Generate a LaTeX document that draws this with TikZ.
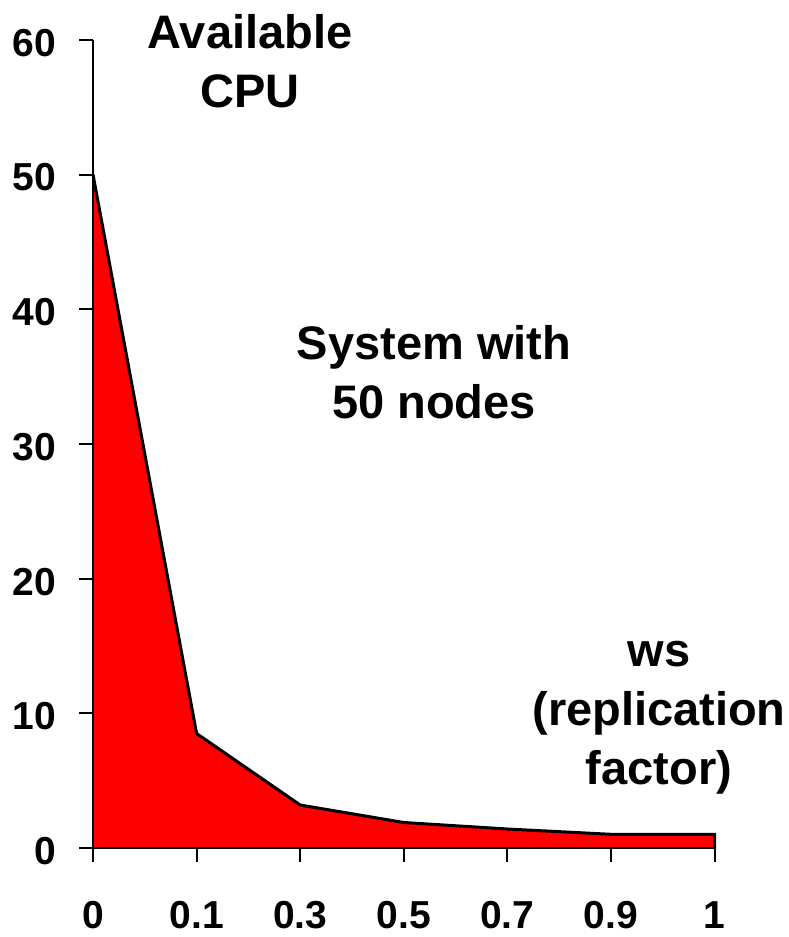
\documentclass[tikz,border=0pt]{standalone}
\usepackage{fontspec}
\setmainfont{Liberation Sans}
\begin{document}
\begin{tikzpicture}[x=1pt,y=-1pt,
  axis/.style={line width=2pt,black},
  tickmark/.style={line width=2pt,black},
  ticklabel/.style={inner sep=0pt,font=\fontsize{39}{39}\selectfont\bfseries},
  title/.style={inner sep=0pt,align=center,font=\fontsize{47}{59}\selectfont\bfseries}]
  \useasboundingbox (0,0) rectangle (789,937);

  % data points: x = category index, y = available CPU
  \coordinate (p0) at (93,174.5);
  \coordinate (p1) at (196.6,733.5);
  \coordinate (p2) at (300.2,805);
  \coordinate (p3) at (403.8,822.5);
  \coordinate (p4) at (507.4,829);
  \coordinate (p5) at (611,834.3);
  \coordinate (p6) at (714.6,834.3);
  \coordinate (o) at (93,848);
  \coordinate (e) at (714.6,848);
  \coordinate (top) at (93,40);

  % filled area under the curve
  \fill[red] (o) -- (p0) -- (p1) -- (p2) -- (p3) -- (p4) -- (p5) -- (p6) -- (e) -- cycle;
  \draw[line width=3pt,line join=miter] (p0) -- (p1) -- (p2) -- (p3) -- (p4) -- (p5) -- (p6) -- (e);

  % axes
  \draw[axis] (top) -- (o) -- (e);

  % y ticks and labels
  \foreach \v/\yy in {0/848,10/713.3,20/578.6,30/443.9,40/309.2,50/174.5,60/40}{
    \draw[tickmark] (79,\yy) -- (93,\yy);
    \node[ticklabel,anchor=east] (yl\v) at (56,\yy+3) {\v};
  }
  % x ticks and labels
  \foreach \i/\lab in {0/0,1/0.1,2/0.3,3/0.5,4/0.7,5/0.9,6/1}{
    \draw[tickmark] (93+103.6*\i,848) -- (93+103.6*\i,862);
    \node[ticklabel] (xl\i) at (93+103.6*\i,915) {\lab};
  }

  % annotations (base anchor sits on the last line)
  \node[title,anchor=base] (ttl) at (250,107) {Available\\CPU};
  \node[title,anchor=base] (sys) at (434,418) {System with\\50 nodes};
  \node[title,anchor=base] (ws) at (659,784) {ws\\(replication\\factor)};
\end{tikzpicture}
\end{document}
